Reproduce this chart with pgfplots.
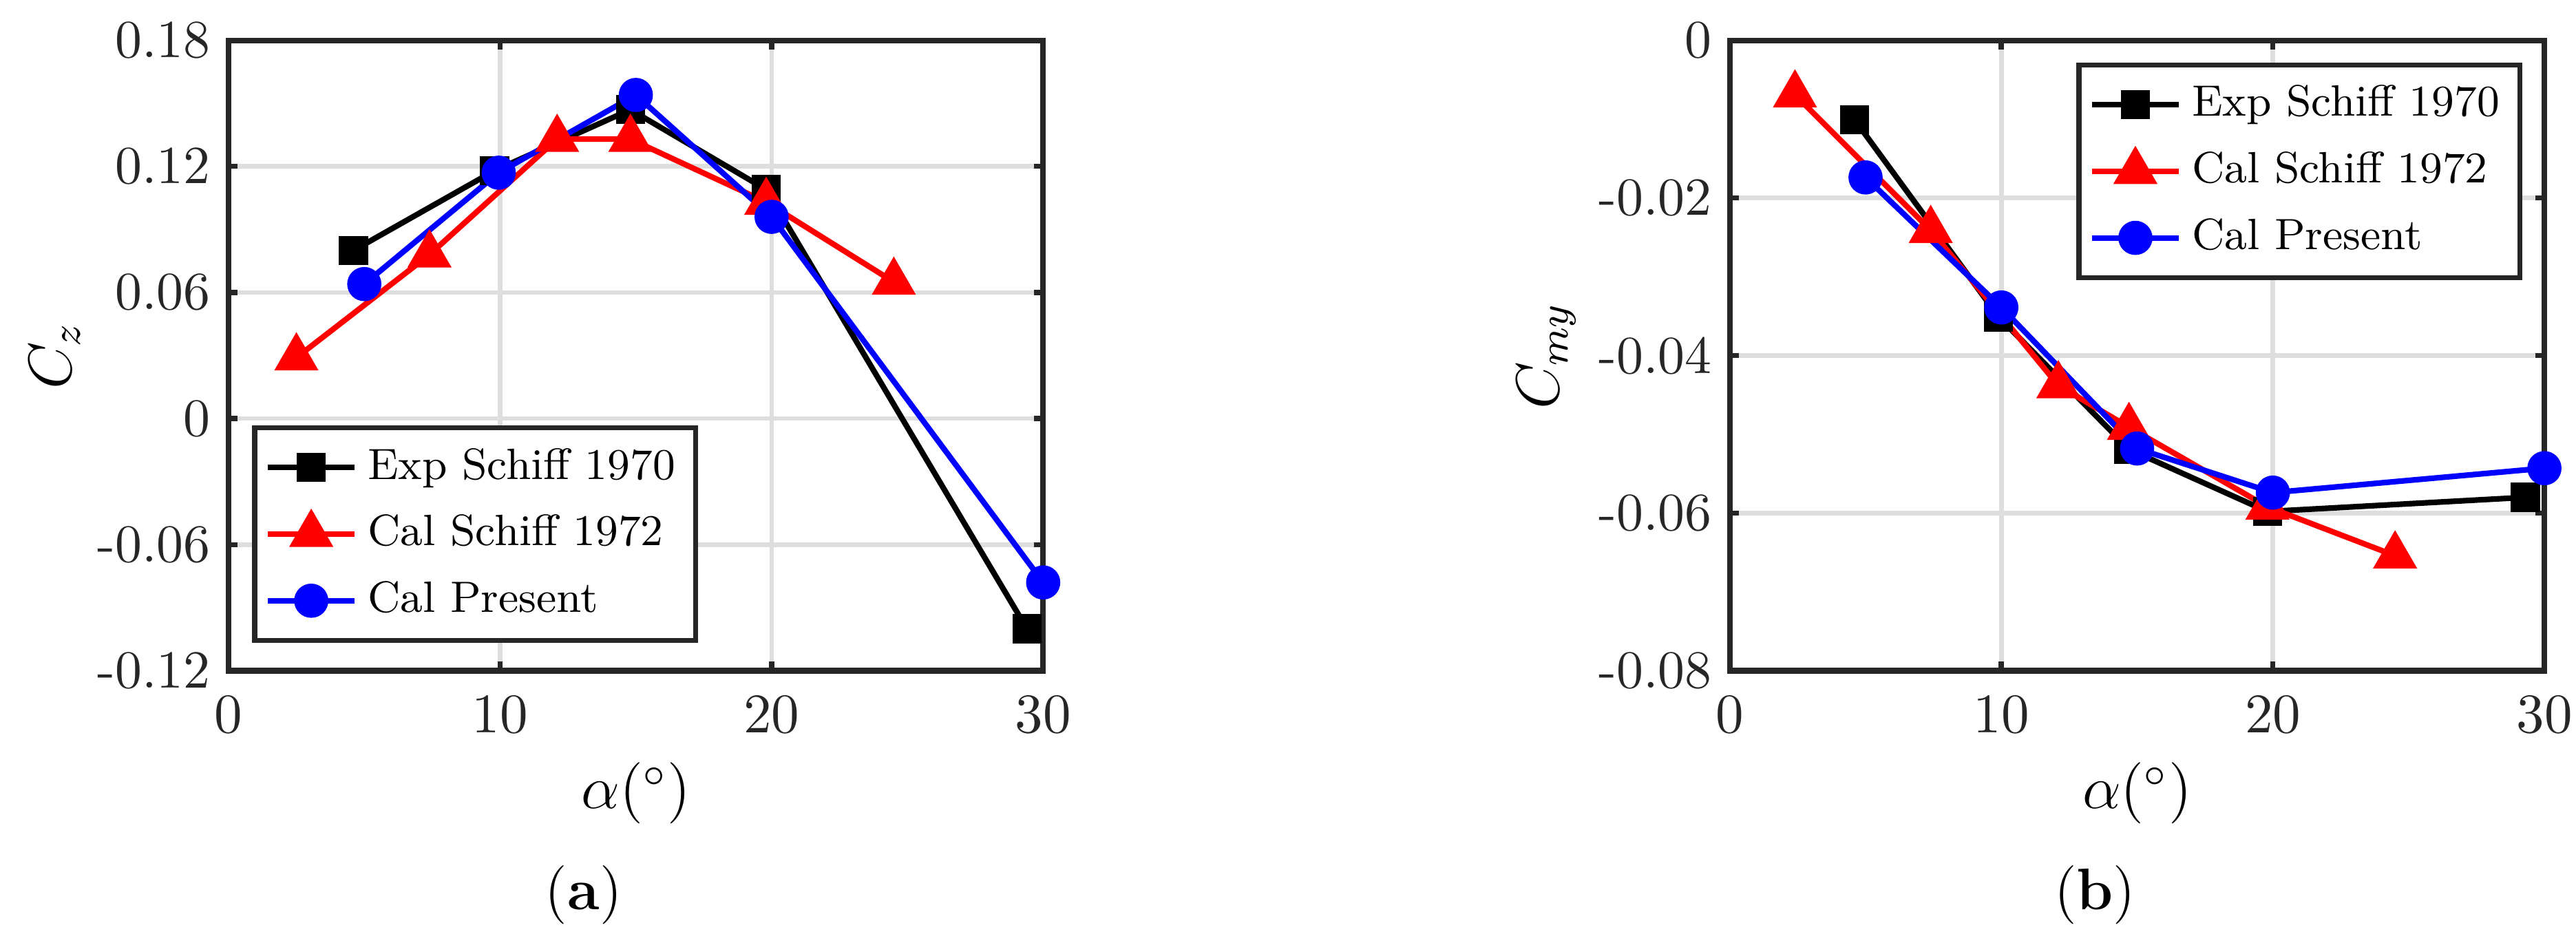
\documentclass[border=0pt]{standalone}
\usepackage{pgfplots}
\pgfplotsset{compat=1.18}
\definecolor{axgray}{RGB}{38,38,38}
\definecolor{gridgray}{RGB}{222,222,222}
\pgfplotsset{
  myaxis/.style={
    scale only axis,
    width=159.7pt, height=123.6pt,
    xmin=0, xmax=30,
    xtick={0,10,20,30},
    scaled y ticks=false, scaled x ticks=false,
    axis line style={color=axgray, line width=1.1pt},
    tick style={color=axgray, line width=1pt},
    major tick length=1.8pt,
    tick align=inside,
    xtick pos=both, ytick pos=both,
    grid=major,
    major grid style={color=gridgray, line width=0.9pt},
    tick label style={font=\fontsize{10.5}{12}\selectfont, color=axgray},
    xticklabel style={yshift=-1.5pt},
    label style={font=\fontsize{11.5}{13}\selectfont},
    xlabel style={at={(axis description cs:0.5,-0.194)}, anchor=center},
    xlabel={$\alpha(^\circ)$},
    legend style={draw=axgray, line width=1pt, font=\fontsize{8.6}{10}\selectfont,
      inner sep=2pt, row sep=1.5pt, cells={anchor=west}},
    legend cell align=left,
    legend image code/.code={\draw[mark repeat=2,mark phase=2] plot coordinates {(0cm,0cm)(0.3cm,0cm)(0.6cm,0cm)};},
  },
  exp/.style={black, line width=1.1pt, mark=square*, mark size=2.3pt, mark options={solid, fill=black}},
  cal/.style={red, line width=1.1pt, mark=triangle*, mark size=3.9pt, mark options={solid, fill=red}},
  pres/.style={blue, line width=1.1pt, mark=*, mark size=2.8pt, mark options={solid, fill=blue}},
}
\begin{document}
\begin{tikzpicture}
\path[use as bounding box] (-44.8pt,-51.5pt) rectangle (460.2pt,131.5pt);
\begin{axis}[myaxis,
  at={(0,0)}, anchor=south west,
  ymin=-0.12, ymax=0.18,
  ytick={-0.12,-0.06,0,0.06,0.12,0.18},
  yticklabels={-0.12,-0.06,0,0.06,0.12,0.18},
  ylabel={$C_z$},
  ylabel style={at={(axis description cs:-0.213,0.5)}, anchor=center},
  legend style={at={(0.029,0.044)}, anchor=south west},
]
\addplot[exp] coordinates {(4.6,0.080) (9.8,0.118) (14.8,0.147) (19.8,0.109) (29.4,-0.100)};
\addlegendentry{Exp Schiff 1970}
\addplot[cal] coordinates {(2.5,0.029) (7.4,0.078) (12.1,0.133) (14.8,0.133) (19.8,0.103) (24.5,0.065)};
\addlegendentry{Cal Schiff 1972}
\addplot[pres] coordinates {(5.0,0.064) (9.95,0.117) (15.0,0.154) (20.0,0.096) (30.0,-0.078)};
\addlegendentry{Cal Present}
\end{axis}
\begin{axis}[myaxis,
  at={(294.3pt,0)}, anchor=south west,
  ymin=-0.08, ymax=0,
  ytick={-0.08,-0.06,-0.04,-0.02,0},
  yticklabels={-0.08,-0.06,-0.04,-0.02,0},
  ylabel={$C_{my}$},
  ylabel style={at={(axis description cs:-0.225,0.5)}, anchor=center},
  legend style={at={(0.973,0.965)}, anchor=north east},
]
\addplot[exp] coordinates {(4.6,-0.0101) (9.9,-0.0351) (14.7,-0.0519) (19.8,-0.0598) (29.3,-0.0580)};
\addlegendentry{Exp Schiff 1970}
\addplot[cal] coordinates {(2.4,-0.0069) (7.4,-0.0241) (12.1,-0.0438) (14.7,-0.0491) (19.8,-0.0592) (24.5,-0.0654)};
\addlegendentry{Cal Schiff 1972}
\addplot[pres] coordinates {(5.0,-0.0174) (10.0,-0.0339) (15.0,-0.0518) (20.0,-0.0574) (30.0,-0.0543)};
\addlegendentry{Cal Present}
\end{axis}
\node[font=\fontsize{11.5}{13}\selectfont] at (69.6pt,-44pt) {(\textbf{a})};
\node[font=\fontsize{11.5}{13}\selectfont] at (365.9pt,-44pt) {(\textbf{b})};
\end{tikzpicture}
\end{document}
